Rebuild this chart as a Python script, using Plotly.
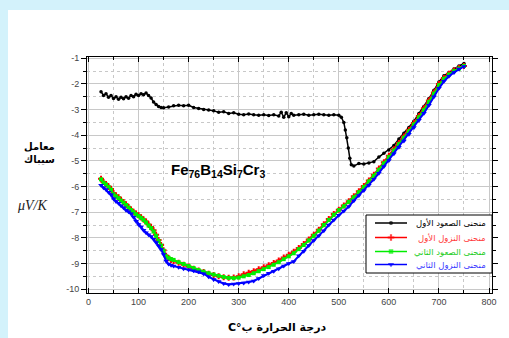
import plotly.graph_objects as go

# ---------------- data ----------------
heat1_x = [25, 30, 35, 40, 45, 50, 55, 60, 65, 70, 75, 80, 85, 90, 95, 100, 105, 110, 115, 120,
           125, 130, 135, 140, 145, 150, 160, 170, 180, 190, 200, 210, 220, 230, 240, 250, 260, 270,
           280, 290, 300, 310, 320, 330, 340, 350, 360, 370, 380, 385, 390, 395, 400, 405, 410, 420,
           430, 440, 450, 460, 470, 480, 490, 500, 505, 510, 513, 516, 519, 522, 525, 530, 540, 550,
           560, 570, 580, 590, 600, 610, 620, 630, 640, 650, 660, 670, 680, 690, 700, 710, 720, 730,
           740, 750]
heat1_y = [-2.3, -2.45, -2.38, -2.52, -2.45, -2.57, -2.5, -2.6, -2.52, -2.58, -2.5, -2.56, -2.45,
           -2.5, -2.4, -2.45, -2.38, -2.42, -2.35, -2.45, -2.55, -2.7, -2.8, -2.88, -2.92, -2.93,
           -2.9, -2.85, -2.83, -2.85, -2.83, -2.92, -2.96, -3.0, -3.02, -3.05, -3.1, -3.08, -3.15,
           -3.12, -3.18, -3.2, -3.17, -3.2, -3.22, -3.2, -3.23, -3.2, -3.25, -3.1, -3.3, -3.12,
           -3.28, -3.15, -3.22, -3.2, -3.18, -3.22, -3.2, -3.18, -3.2, -3.22, -3.2, -3.22, -3.3,
           -3.5, -3.8, -4.1, -4.5, -4.9, -5.15, -5.2, -5.1, -5.12, -5.08, -5.03, -4.85, -4.7,
           -4.58, -4.4, -4.15, -3.92, -3.7, -3.45, -3.15, -2.88, -2.57, -2.25, -1.92, -1.68,
           -1.55, -1.42, -1.3, -1.2]

temp_x = [25, 30, 35, 40, 45, 50, 55, 60, 65, 70, 75, 80, 85, 90, 95, 100, 105, 110, 115, 120,
          125, 130, 135, 140, 145, 150, 155, 160, 165, 170, 180, 190, 200, 210, 220, 230, 240, 250,
          260, 270, 280, 290, 300, 310, 320, 330, 340, 350, 360, 370, 380, 390, 400, 410, 420, 430,
          440, 450, 460, 470, 480, 490, 500, 510, 520, 530, 540, 550, 560, 570, 580, 590, 600, 610,
          620, 630, 640, 650, 660, 670, 680, 690, 700, 710, 720, 730, 740, 750]

cool1_y = [-5.7, -5.82, -5.9, -6.0, -6.1, -6.25, -6.35, -6.42, -6.52, -6.6, -6.7, -6.8, -6.9,
           -6.98, -7.05, -7.12, -7.2, -7.28, -7.36, -7.48, -7.58, -7.7, -7.88, -8.08, -8.28,
           -8.48, -8.7, -8.8, -8.86, -8.9, -8.97, -9.05, -9.12, -9.2, -9.27, -9.33, -9.4, -9.45,
           -9.5, -9.54, -9.56, -9.55, -9.5, -9.42, -9.36, -9.3, -9.22, -9.15, -9.07, -8.98, -8.88,
           -8.77, -8.66, -8.54, -8.4, -8.24, -8.06, -7.88, -7.68, -7.47, -7.27, -7.07, -6.9, -6.74,
           -6.57, -6.38, -6.18, -5.98, -5.76, -5.54, -5.3, -5.05, -4.8, -4.55, -4.3, -4.05, -3.8,
           -3.52, -3.25, -2.95, -2.65, -2.33, -2.0, -1.77, -1.6, -1.48, -1.38, -1.3]

heat2_y = [-5.72, -5.85, -5.92, -6.02, -6.12, -6.3, -6.38, -6.45, -6.55, -6.63, -6.72, -6.82,
           -6.92, -7.0, -7.08, -7.15, -7.22, -7.3, -7.4, -7.52, -7.62, -7.75, -7.92, -8.12, -8.3,
           -8.5, -8.72, -8.78, -8.83, -8.86, -8.95, -9.02, -9.1, -9.18, -9.26, -9.32, -9.38,
           -9.43, -9.48, -9.53, -9.56, -9.57, -9.55, -9.5, -9.45, -9.38, -9.3, -9.22, -9.14,
           -9.05, -8.95, -8.83, -8.72, -8.6, -8.44, -8.28, -8.1, -7.92, -7.72, -7.5, -7.3, -7.1,
           -6.92, -6.77, -6.6, -6.42, -6.22, -6.02, -5.8, -5.58, -5.35, -5.1, -4.85, -4.6, -4.35,
           -4.1, -3.85, -3.58, -3.3, -3.02, -2.7, -2.38, -2.05, -1.8, -1.63, -1.5, -1.4, -1.3]

cool2_y = [-5.95, -6.05, -6.12, -6.22, -6.32, -6.48, -6.58, -6.65, -6.75, -6.83, -6.92, -6.98,
           -7.06, -7.2, -7.35, -7.48, -7.58, -7.7, -7.8, -7.88, -7.95, -8.05, -8.18, -8.32,
           -8.45, -8.65, -8.9, -9.02, -9.07, -9.1, -9.15, -9.2, -9.24, -9.28, -9.32, -9.4, -9.52,
           -9.62, -9.7, -9.78, -9.82, -9.8, -9.78, -9.76, -9.72, -9.68, -9.58, -9.47, -9.38,
           -9.3, -9.2, -9.1, -9.0, -8.92, -8.7, -8.52, -8.3, -8.1, -7.92, -7.72, -7.5, -7.3,
           -7.12, -6.95, -6.78, -6.55, -6.35, -6.15, -5.95, -5.72, -5.48, -5.22, -4.98, -4.72,
           -4.47, -4.22, -3.96, -3.7, -3.42, -3.14, -2.83, -2.5, -2.17, -1.9, -1.7, -1.55, -1.42,
           -1.32]

series_names = ["منحنى الصعود الأول", "منحنى النزول الأول", "منحنى الصعود الثاني", "منحنى النزول الثاني"]
series_colors = ["#000000", "#ff0000", "#00ee00", "#0000ff"]
legend_text_colors = ["#000000", "#ff3b3b", "#22cc22", "#3b3bff"]

x_ticks = [0, 100, 200, 300, 400, 500, 600, 700, 800]
y_ticks = [-1, -2, -3, -4, -5, -6, -7, -8, -9, -10]
y_tick_text = ["-1", "-2", "-3", "-4", "-5", "-6", "-7", "-8", "-9", "-10"]

# ---------------- geometry ----------------
L, R, T, B = 87, 492, 57, 293
W, H = 509, 338
pw, ph = R - L, B - T

def px_x(p):
    return (p - L) / pw

def px_y(p):
    return (B - p) / ph

# ---------------- figure ----------------
fig = go.Figure()
symbols = ["circle", "cross", "square", "triangle-down"]
sizes = [3.5, 5, 4, 5]
widths = [1.5, 2, 2, 2]
all_x = [heat1_x, temp_x, temp_x, temp_x]
all_y = [heat1_y, cool1_y, heat2_y, cool2_y]
for xs, ys, sym, sz, lw, name, col in zip(all_x, all_y, symbols, sizes, widths,
                                          series_names, series_colors):
    fig.add_trace(go.Scatter(
        x=xs, y=ys, mode="lines+markers", name=name, showlegend=False,
        line=dict(color=col, width=lw),
        marker=dict(symbol=sym, size=sz, color=col, line=dict(width=0)),
    ))

# ---- hand-built compact legend (box, samples, coloured labels) ----
leg_left, leg_top, leg_bottom = 366, 215, 273
row_py = [223, 237.5, 251.5, 264.5]
bx0, bx1 = px_x(leg_left), 1.0
by0, by1 = px_y(leg_bottom), px_y(leg_top)
fig.add_trace(go.Scatter(
    x=[bx0, bx1, bx1, bx0, bx0], y=[by0, by0, by1, by1, by0],
    xaxis="x2", yaxis="y2", mode="lines", fill="toself", fillcolor="white",
    line=dict(color="black", width=1), showlegend=False, hoverinfo="skip",
))
for i, (name, col, tcol, sym, sz) in enumerate(zip(series_names, series_colors,
                                                   legend_text_colors, symbols, sizes)):
    yy = px_y(row_py[i])
    fig.add_trace(go.Scatter(
        x=[px_x(375), px_x(391), px_x(407)], y=[yy, yy, yy],
        xaxis="x2", yaxis="y2", mode="lines+markers", showlegend=False, hoverinfo="skip",
        line=dict(color=col, width=1.5),
        marker=dict(symbol=sym, size=[0, sz + 0.5, 0], color=col, line=dict(width=0)),
    ))
    fig.add_annotation(
        x=px_x(488), y=yy, xref="paper", yref="paper", xanchor="right", yanchor="middle",
        showarrow=False, text=name,
        font=dict(family="DejaVu Sans", size=8.5, color=tcol),
    )

grid_col = "#c8c8c8"
axis_common = dict(
    showline=True, linecolor="black", linewidth=1, mirror="ticks",
    showgrid=True, gridcolor=grid_col, gridwidth=1.2, zeroline=False,
    tickfont=dict(family="Liberation Sans, Arial", size=9, color="#444444"),
    ticklen=5, tickcolor="black",
)

fig.update_xaxes(
    range=[-3, 806], tickvals=x_ticks, ticks="inside",
    minor=dict(dtick=50, tick0=0, showgrid=True, gridcolor=grid_col, griddash="dot",
               ticks="inside", ticklen=3, tickcolor="black"),
    **axis_common,
)
fig.update_yaxes(
    range=[-10.15, -0.95], tickvals=y_ticks, ticktext=y_tick_text, ticks="outside",
    minor=dict(dtick=0.5, tick0=0, showgrid=True, gridcolor=grid_col, griddash="dot",
               ticks="outside", ticklen=3, tickcolor="black"),
    **axis_common,
)
# overlay axes used only to place the legend box inside the plotting area
fig.update_layout(
    xaxis2=dict(domain=[0, 1], range=[0, 1], overlaying="x", anchor="y2", visible=False,
                fixedrange=True),
    yaxis2=dict(domain=[0, 1], range=[0, 1], overlaying="y", anchor="x2", visible=False,
                fixedrange=True),
)

fig.add_annotation(
    x=259, y=-5.36, xref="x", yref="y", showarrow=False,
    xanchor="center", yanchor="middle",
    text="<b>Fe<sub>76</sub>B<sub>14</sub>Si<sub>7</sub>Cr<sub>3</sub></b>",
    font=dict(family="Liberation Sans, Arial", size=15, color="black"),
)
fig.add_annotation(
    x=px_x(39), y=px_y(153), xref="paper", yref="paper", showarrow=False,
    xanchor="center", yanchor="middle",
    text="<b>معامل<br>سيباك</b>",
    font=dict(family="DejaVu Sans", size=10, color="black"),
)
fig.add_annotation(
    x=px_x(32), y=px_y(205), xref="paper", yref="paper", showarrow=False,
    xanchor="center", yanchor="middle",
    text="<i>μV/K</i>",
    font=dict(family="Liberation Serif", size=14, color="#222222"),
)
fig.add_annotation(
    x=px_x(277), y=px_y(327), xref="paper", yref="paper", showarrow=False,
    xanchor="center", yanchor="middle",
    text="<b>\u202bدرجة الحرارة ب°C\u202c</b>",
    font=dict(family="DejaVu Sans", size=11, color="black"),
)

# white panel inside the light-blue frame
fig.add_shape(
    type="rect", xref="paper", yref="paper", layer="below",
    x0=px_x(8), x1=px_x(W + 5), y0=px_y(H + 5), y1=px_y(10),
    fillcolor="white", line=dict(width=0),
)

fig.update_layout(
    width=W, height=H,
    margin=dict(l=L, r=W - R, t=T, b=H - B),
    paper_bgcolor="#d3f2fb", plot_bgcolor="white",
    showlegend=False,
)

fig.write_html(
    "out.html",
    config={"displayModeBar": False},
    post_script="document.body.style.margin='0px';document.body.style.padding='0px';"
                "document.body.style.overflow='hidden';",
)
